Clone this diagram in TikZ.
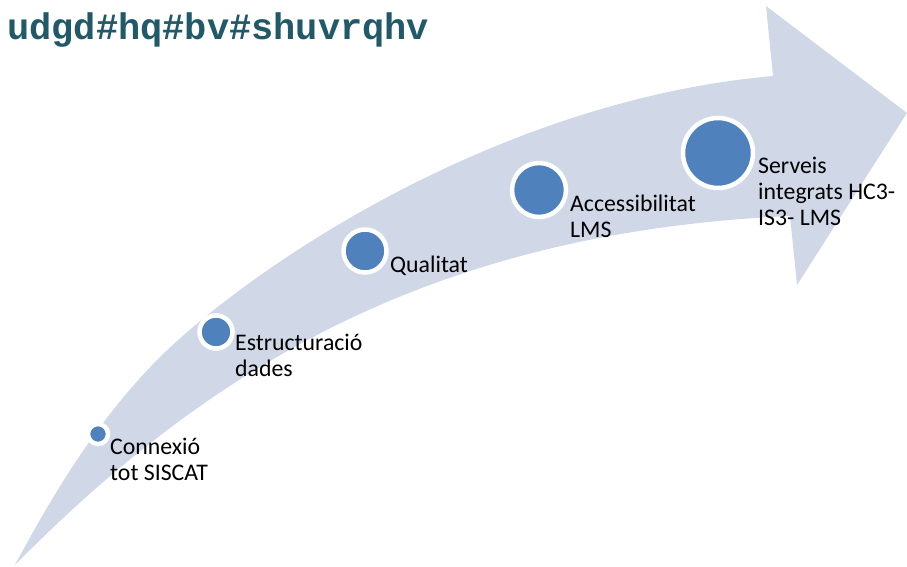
\documentclass[tikz,border=0pt]{standalone}
\usepackage{fontspec}
\setmainfont{Carlito}
\newfontfamily\titlefont{Liberation Mono}
\definecolor{band}{RGB}{208,216,232}
\definecolor{dotblue}{RGB}{79,129,189}
\definecolor{titleteal}{RGB}{33,89,104}
\begin{document}
\begin{tikzpicture}[x=1pt,y=-1pt,
  dot/.style={circle,fill=dotblue,draw=white,line width=4.5pt,inner sep=0pt},
  lbl/.style={anchor=base west,inner sep=0pt,align=left,text=black,
    font=\fontsize{23.8}{26}\selectfont}]
\useasboundingbox (0,0) rectangle (907,567);
\fill[band] (15,565) .. controls (55,490) and (100,417) .. (160,357)
  .. controls (255,264) and (500,100) .. (773,76)
  -- (766,6) -- (907,113) -- (797,285) -- (790,216)
  .. controls (440,232) and (215,362) .. (15,565) -- cycle;
\node[anchor=base west,inner sep=0pt,text=titleteal,font=\titlefont\bfseries\fontsize{37}{40}\selectfont] (title) at (7,40) {udgd\#hq\#bv\#shuvrqhv};
\node[dot,minimum size=20pt] (d1) at (98,434) {};
\node[dot,minimum size=33pt] (d2) at (216,332) {};
\node[dot,minimum size=43pt] (d3) at (365,251) {};
\node[dot,minimum size=54pt] (d4) at (539,190) {};
\node[dot,minimum size=70pt] (d5) at (718,153) {};
\node[lbl] (t1) at (110,480) {Connexió\\tot SISCAT};
\node[lbl] (t2) at (235,376) {Estructuració\\dades};
\node[lbl] (t3) at (390,272) {Qualitat};
\node[lbl] (t4) at (570,237) {Accessibilitat\\LMS};
\node[lbl] (t5) at (758,225) {Serveis\\integrats HC3-\\IS3- LMS};
\end{tikzpicture}
\end{document}
